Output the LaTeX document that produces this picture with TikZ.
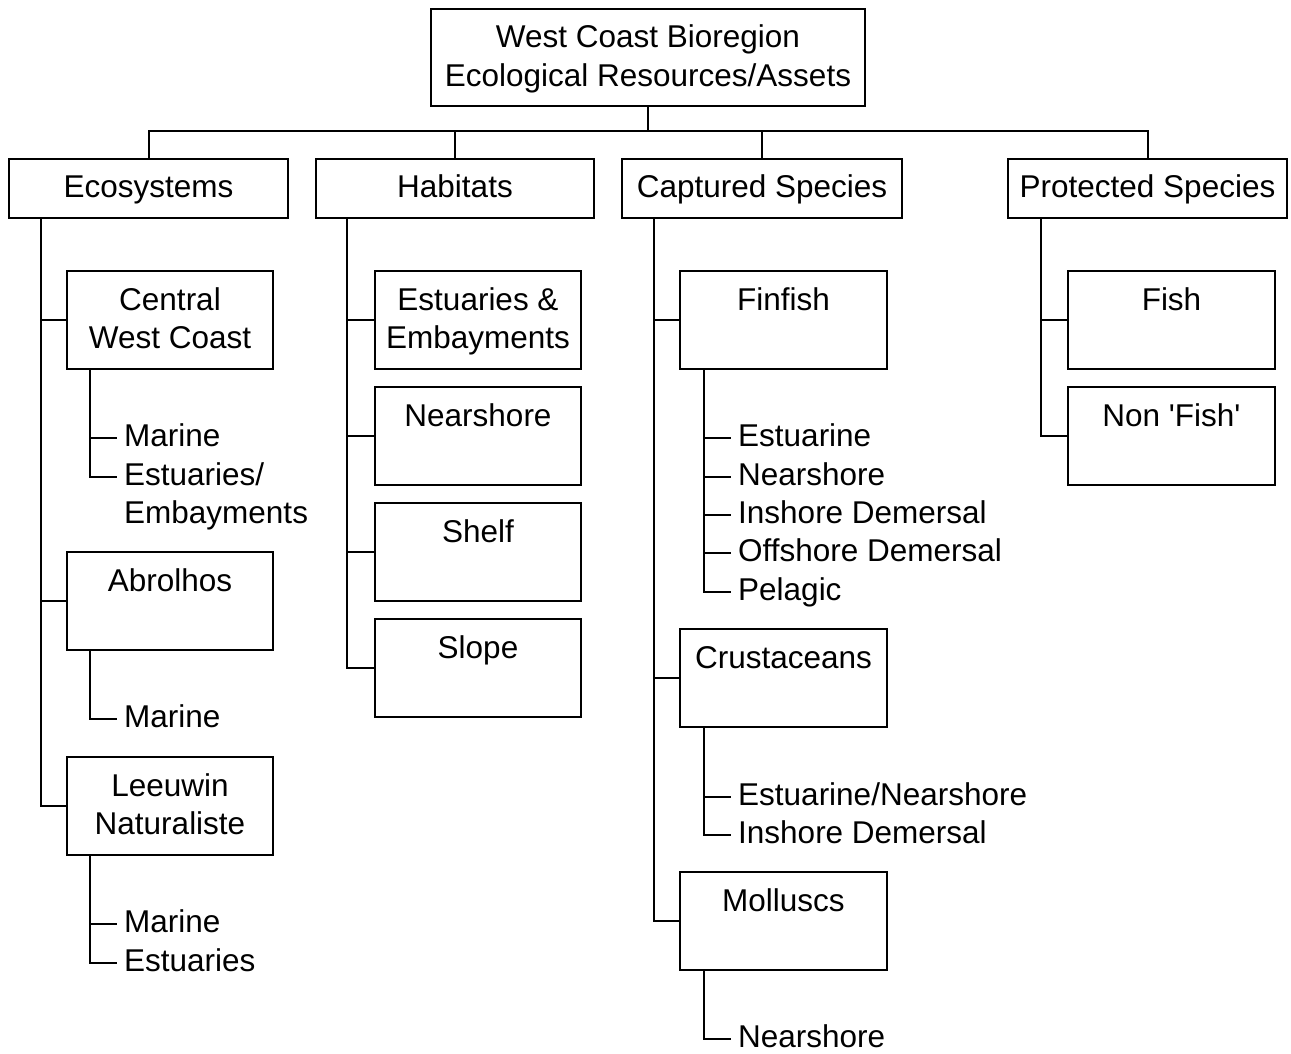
\documentclass[tikz,border=0pt]{standalone}
\usepackage{fontspec}
\setmainfont{Liberation Sans}
\begin{document}
\begin{tikzpicture}[x=1pt,y=-1pt,
  every node/.style={font=\fontsize{31.5}{38.4}\selectfont},
  box/.style={draw, line width=2pt, inner xsep=0pt, inner ysep=0pt, anchor=north},
  hbox/.style={box, minimum width=206pt, text height=39.5pt, text depth=58.5pt},
  catbox/.style={box, text height=38.7pt, text depth=20.3pt},
  leaf/.style={anchor=west, inner xsep=7pt, inner ysep=0pt, text height=20pt, text depth=3pt},
  link/.style={draw, line width=2pt}]
\useasboundingbox (0,0) rectangle (1291,1054);

% root
\node[box, minimum width=434pt, text height=39pt, text depth=58pt] (root) at (648,8)
  {\begin{tabular}[t]{@{}c@{}}West Coast Bioregion\\Ecological Resources/Assets\end{tabular}};

% level 1
\node[catbox, minimum width=279pt] (eco)  at (148.5,158) {Ecosystems};
\node[catbox, minimum width=278pt] (hab)  at (455,158)   {Habitats};
\node[catbox, minimum width=280pt] (cap)  at (762,158)   {Captured Species};
\node[catbox, minimum width=279pt] (prot) at (1147.5,158){Protected Species};

\coordinate (bus) at (648,131);
\draw[link] (root.south) -- (bus);
\foreach \n in {eco,hab,cap,prot} \draw[link] (bus) -| (\n.north);

% ---------------- Ecosystems
\node[hbox] (cwc) at (170,270) {\begin{tabular}[t]{@{}c@{}}Central\\West Coast\end{tabular}};
\node[hbox] (abr) at (170,551) {Abrolhos};
\node[hbox] (lee) at (170,756) {\begin{tabular}[t]{@{}c@{}}Leeuwin\\Naturaliste\end{tabular}};
\coordinate (ecosp) at ([xshift=33pt]eco.south west);
\foreach \n in {cwc,abr,lee} \draw[link] (ecosp) |- (\n.west);

\coordinate (cwcsp) at ([xshift=24pt]cwc.south west);
\node[leaf] (cwcA) at (117,438) {Marine};
\node[leaf] (cwcB) at (117,477) {\begin{tabular}[t]{@{}l@{}}Estuaries/\\Embayments\end{tabular}};
\foreach \n in {cwcA,cwcB} \draw[link] (cwcsp) |- (\n.west);

\coordinate (abrsp) at ([xshift=24pt]abr.south west);
\node[leaf] (abrA) at (117,719) {Marine};
\draw[link] (abrsp) |- (abrA.west);

\coordinate (leesp) at ([xshift=24pt]lee.south west);
\node[leaf] (leeA) at (117,924) {Marine};
\node[leaf] (leeB) at (117,963) {Estuaries};
\foreach \n in {leeA,leeB} \draw[link] (leesp) |- (\n.west);

% ---------------- Habitats
\node[hbox] (habA) at (478,270) {\begin{tabular}[t]{@{}c@{}}Estuaries \&\\Embayments\end{tabular}};
\node[hbox] (habB) at (478,386) {Nearshore};
\node[hbox] (habC) at (478,502) {Shelf};
\node[hbox] (habD) at (478,618) {Slope};
\coordinate (habsp) at ([xshift=32pt]hab.south west);
\foreach \n in {habA,habB,habC,habD} \draw[link] (habsp) |- (\n.west);

% ---------------- Captured species
\node[hbox, minimum width=207pt] (fin) at (783.5,270) {Finfish};
\node[hbox, minimum width=207pt] (cru) at (783.5,628) {Crustaceans};
\node[hbox, minimum width=207pt] (mol) at (783.5,871) {Molluscs};
\coordinate (capsp) at ([xshift=33pt]cap.south west);
\foreach \n in {fin,cru,mol} \draw[link] (capsp) |- (\n.west);

\coordinate (finsp) at ([xshift=25pt]fin.south west);
\node[leaf] (finA) at (731,438) {Estuarine};
\node[leaf] (finB) at (731,477) {Nearshore};
\node[leaf] (finC) at (731,515) {Inshore Demersal};
\node[leaf] (finD) at (731,553) {Offshore Demersal};
\node[leaf] (finE) at (731,592) {Pelagic};
\foreach \n in {finA,finB,finC,finD,finE} \draw[link] (finsp) |- (\n.west);

\coordinate (crusp) at ([xshift=25pt]cru.south west);
\node[leaf] (cruA) at (731,797) {Estuarine/Nearshore};
\node[leaf] (cruB) at (731,835) {Inshore Demersal};
\foreach \n in {cruA,cruB} \draw[link] (crusp) |- (\n.west);

\coordinate (molsp) at ([xshift=25pt]mol.south west);
\node[leaf] (molA) at (731,1039) {Nearshore};
\draw[link] (molsp) |- (molA.west);

% ---------------- Protected species
\node[hbox, minimum width=207pt] (pfish) at (1171.5,270) {Fish};
\node[hbox, minimum width=207pt] (pnon)  at (1171.5,386) {Non \textquotesingle Fish\textquotesingle};
\coordinate (protsp) at ([xshift=34pt]prot.south west);
\foreach \n in {pfish,pnon} \draw[link] (protsp) |- (\n.west);
\end{tikzpicture}
\end{document}
